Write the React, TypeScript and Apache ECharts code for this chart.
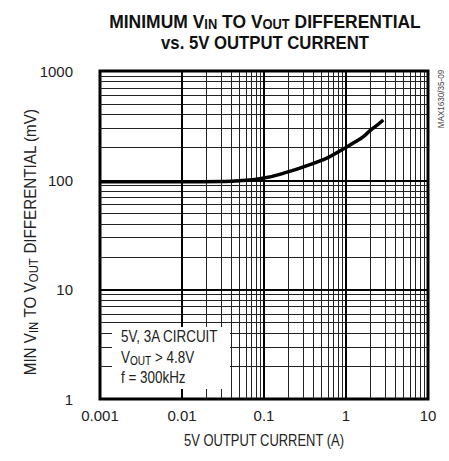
import React, { useEffect, useRef } from "react";
import * as echarts from "echarts";

// Curve: minimum VIN to VOUT differential vs 5V output current
const currentA = [0.001, 0.01, 0.03, 0.05, 0.1, 0.2, 0.35, 0.52, 0.64, 1.0, 1.3, 1.63, 1.96, 2.4, 2.85];
const diffMv = [97, 97, 97.5, 99, 105, 120, 138, 154, 165, 200, 225, 251, 285, 320, 356];

const xDecades = [0.001, 0.01, 0.1, 1, 10];
const xTickLabels = ["0.001", "0.01", "0.1", "1", "10"];
const yDecades = [1, 10, 100, 1000];
const yTickLabels = ["1", "10", "100", "1000"];
const minorSteps = [2, 3, 4, 5, 6, 7, 8, 9];

const FONT = "'Liberation Sans Narrow', 'Liberation Sans', Arial, sans-serif";

function labelFor(v: number, decades: number[], labels: string[]) {
  for (let i = 0; i < decades.length; i++) {
    if (Math.abs(Math.log10(v) - Math.log10(decades[i])) < 1e-6) return labels[i];
  }
  return "";
}

export default function App() {
  const ref = useRef<HTMLDivElement>(null);
  useEffect(() => {
    if (!ref.current) return;
    const chart = echarts.init(ref.current, undefined, { renderer: "svg" });

    const gridLines: any[] = [];
    xDecades.slice(0, -1).forEach((d) =>
      minorSteps.forEach((m) =>
        gridLines.push({ xAxis: d * m, lineStyle: { width: 1, color: "#222", type: "solid" } })
      )
    );
    yDecades.slice(0, -1).forEach((d) =>
      minorSteps.forEach((m) =>
        gridLines.push({ yAxis: d * m, lineStyle: { width: 1, color: "#222", type: "solid" } })
      )
    );
    xDecades.forEach((d) => gridLines.push({ xAxis: d, lineStyle: { width: 2, color: "#000", type: "solid" } }));
    yDecades.forEach((d) => gridLines.push({ yAxis: d, lineStyle: { width: 2, color: "#000", type: "solid" } }));

    const sub = (size: number, bold: boolean, pad: number) => ({
      fontSize: size,
      fontFamily: FONT,
      fontWeight: bold ? "bold" : "normal",
      fill: "#111",
      padding: [pad, 0, 0, 0],
    });

    const txt = (
      text: string,
      x: number,
      y: number,
      opts: { size?: number; bold?: boolean; align?: string; rot?: number; sx?: number; fill?: string; rich?: any }
    ) => ({
      type: "text",
      x,
      y,
      rotation: opts.rot || 0,
      scaleX: opts.sx || 1,
      z: 20,
      style: {
        text,
        fontSize: opts.size || 16,
        fontWeight: opts.bold ? "bold" : "normal",
        fontFamily: FONT,
        fill: opts.fill || "#222",
        align: opts.align || "center",
        verticalAlign: "middle",
        rich: opts.rich,
      },
    });

    chart.setOption({
      animation: false,
      backgroundColor: "#fff",
      grid: {
        left: 100,
        top: 71,
        width: 328,
        height: 328,
        show: true,
        borderColor: "#000",
        borderWidth: 3,
        backgroundColor: "transparent",
      },
      xAxis: {
        type: "log",
        logBase: 10,
        min: 0.001,
        max: 10,
        axisLine: { show: false },
        axisTick: { show: false },
        splitLine: { show: false },
        axisLabel: {
          fontFamily: FONT,
          fontSize: 15,
          color: "#222",
          margin: 9,
          formatter: (v: number) => labelFor(v, xDecades, xTickLabels),
        },
      },
      yAxis: {
        type: "log",
        logBase: 10,
        min: 1,
        max: 1000,
        axisLine: { show: false },
        axisTick: { show: false },
        splitLine: { show: false },
        axisLabel: {
          fontFamily: FONT,
          fontSize: 15,
          color: "#222",
          margin: 27,
          formatter: (v: number) => labelFor(v, yDecades, yTickLabels),
        },
      },
      series: [
        {
          type: "line",
          data: [[0.001, 1]],
          showSymbol: false,
          symbol: "none",
          lineStyle: { width: 0 },
          silent: true,
          z: 2,
          markLine: {
            silent: true,
            symbol: ["none", "none"],
            label: { show: false },
            animation: false,
            data: gridLines,
          },
        },
        {
          type: "line",
          data: currentA.map((x, i) => [x, diffMv[i]]),
          smooth: true,
          symbol: "none",
          lineStyle: { width: 3.5, color: "#000" },
          z: 5,
        },
      ],
      graphic: [
        txt("MINIMUM V{s|IN} TO V{s|OUT} DIFFERENTIAL", 265, 21, {
          size: 19,
          bold: true,
          sx: 0.92,
          fill: "#111",
          rich: { s: sub(14, true, 7) },
        }),
        txt("vs. 5V OUTPUT CURRENT", 265, 43, { size: 19, bold: true, sx: 0.88, fill: "#111" }),
        txt("MIN V{s|IN} TO V{s|OUT} DIFFERENTIAL (mV)", 30, 242, {
          size: 16,
          rot: Math.PI / 2,
          sx: 0.95,
          rich: { s: sub(12, false, 6) },
        }),
        txt("5V OUTPUT CURRENT (A)", 264, 441, { size: 16, sx: 0.81 }),
        txt("MAX1630/35-09", 441, 99, { size: 9, rot: Math.PI / 2, sx: 0.9, fill: "#444" }),
        {
          type: "rect",
          z: 15,
          shape: { x: 112, y: 327, width: 118, height: 62 },
          style: { fill: "#fff" },
        },
        txt("5V, 3A CIRCUIT", 121, 337, { size: 16, align: "left", sx: 0.84 }),
        txt("V{s|OUT} > 4.8V", 121, 358, { size: 16, align: "left", sx: 0.84, rich: { s: sub(12, false, 6) } }),
        txt("f = 300kHz", 121, 378, { size: 16, align: "left", sx: 0.84 }),
      ],
    });
    return () => chart.dispose();
  }, []);
  return (
    <div
      ref={ref}
      style={{ position: "fixed", left: 0, top: 0, width: 449, height: 461 }}
    />
  );
}
